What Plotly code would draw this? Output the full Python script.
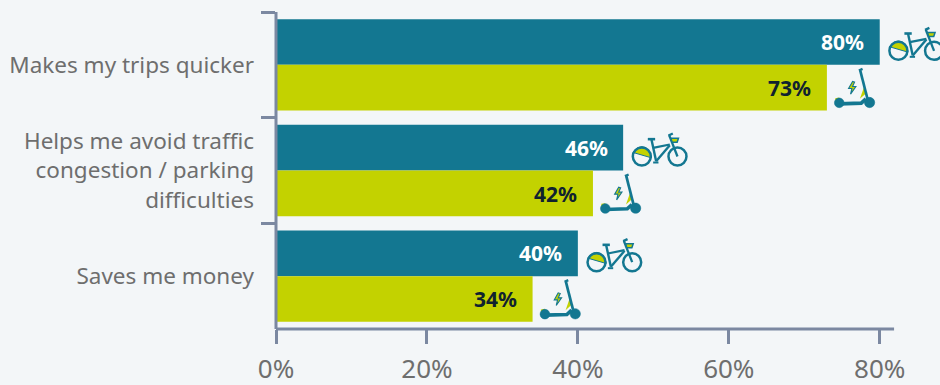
import plotly.graph_objects as go

categories = ["Makes my trips quicker",
              "Helps me avoid traffic<br>congestion / parking<br>difficulties",
              "Saves me money"]
bike_values = [80, 46, 40]
scooter_values = [73, 42, 34]
x_ticks = [0, 20, 40, 60, 80]
x_tick_labels = ["0%", "20%", "40%", "60%", "80%"]

TEAL = "#137791"
LIME = "#c3d200"
AXIS = "#7b88a1"
BG = "#f3f6f8"
GREY = "#6e6e6e"
DARK = "#10222f"
FONT = "Noto Sans"
BAR_OFFSET = 23  # px between category centre and bar centre


def z(pt, ox, oy):
    return (pt[0] - ox) / 3, (pt[1] - oy) / 3


def poly(pts, ox, oy, close=False):
    out = []
    for i, p in enumerate(pts):
        x, y = z(p, ox, oy)
        out.append(f"{'M' if i == 0 else 'L'} {x:.2f} {y:.2f}")
    return " ".join(out) + (" Z" if close else "")


def circle(c, r, ox, oy):
    x, y = z(c, ox, oy)
    r = r / 3
    k = r * 0.5523
    return (f"M {x-r:.2f} {y:.2f} C {x-r:.2f} {y-k:.2f} {x-k:.2f} {y-r:.2f} {x:.2f} {y-r:.2f} "
            f"C {x+k:.2f} {y-r:.2f} {x+r:.2f} {y-k:.2f} {x+r:.2f} {y:.2f} "
            f"C {x+r:.2f} {y+k:.2f} {x+k:.2f} {y+r:.2f} {x:.2f} {y+r:.2f} "
            f"C {x-k:.2f} {y+r:.2f} {x-r:.2f} {y+k:.2f} {x-r:.2f} {y:.2f} Z")


def place(path, dy):
    toks = path.split()
    out, is_y = [], False
    for t in toks:
        if t.isalpha():
            out.append(t)
            is_y = False
        else:
            out.append(f"{-(float(t) + dy):.2f}" if is_y else t)
            is_y = not is_y
    return " ".join(out)


BOX = (144, 69)   # origin in 3x crop units: bar end, bar centre
SC = (9, 207)

bike_parts = [
    # lime half of the rear wheel
    ("M 174 84 C 190 58 222 60 229 100 Z", LIME, TEAL, 1.0, True),
    (circle((200, 96), 27, *BOX), None, TEAL, 2.5, False),
    (circle((307, 96), 27, *BOX), None, TEAL, 2.5, False),
    (poly([(218, 44), (240, 44)], *BOX), None, TEAL, 2.6, False),
    (poly([(229, 45), (243, 110)], *BOX), None, TEAL, 2.4, False),
    (poly([(234, 70), (284, 60)], *BOX), None, TEAL, 2.2, False),
    (poly([(284, 62), (243, 110)], *BOX), None, TEAL, 2.4, False),
    (poly([(282, 32), (307, 96)], *BOX), None, TEAL, 2.3, False),
    (poly([(280, 33), (293, 27)], *BOX), None, TEAL, 2.4, False),
    (poly([(287, 41), (310, 41), (306, 53), (291, 53)], *BOX, close=True), LIME, TEAL, 1.5, False),
    (poly([(234, 114), (250, 114)], *BOX), None, TEAL, 2.0, False),
]
scooter_parts = [
    (poly([(108, 240), (121, 203), (126, 224)], *SC, close=True), LIME, None, 0, False),
    (poly([(34, 238), (46, 236), (46, 246), (34, 248)], *SC, close=True), LIME, None, 0, False),
    (circle((46, 252), 14.5, *SC), TEAL, TEAL, 0.5, False),
    (circle((137, 251), 15.5, *SC), TEAL, TEAL, 0.5, False),
    (poly([(46, 255), (112, 253), (126, 240)], *SC), None, TEAL, 3.6, False),
    (poly([(109, 155), (132, 245)], *SC), None, TEAL, 2.7, False),
    (poly([(105, 155), (116, 150)], *SC), None, TEAL, 2.4, False),
    (poly([(86, 188), (74, 209), (84, 209), (80, 226), (96, 203), (86, 203), (92, 190)], *SC, close=True),
     LIME, TEAL, 1.1, False),
]


def translate_raw(path, ox, oy):
    toks = path.split()
    out, is_y = [], False
    for t in toks:
        if t.isalpha():
            out.append(t)
            is_y = False
        else:
            v = (float(t) - (oy if is_y else ox)) / 3
            out.append(f"{v:.2f}")
            is_y = not is_y
    return " ".join(out)


def icon_shapes(parts, value, row, dy, origin):
    shapes = []
    for path, fill, line, width, raw in parts:
        p = translate_raw(path, *origin) if raw else path
        shapes.append(dict(
            type="path", xref="x", yref="y",
            xsizemode="pixel", ysizemode="pixel",
            xanchor=value, yanchor=row,
            path=place(p, dy),
            fillcolor=fill if fill else "rgba(0,0,0,0)",
            line=dict(color=line if line else "rgba(0,0,0,0)", width=width),
            layer="above",
        ))
    return shapes


fig = go.Figure()
fig.add_bar(y=categories, x=bike_values, orientation="h", marker=dict(color=TEAL, line_width=0),
            hoverinfo="skip", showlegend=False)
fig.add_bar(y=categories, x=scooter_values, orientation="h", marker=dict(color=LIME, line_width=0),
            hoverinfo="skip", showlegend=False)

shapes = [
    dict(type="line", xref="x", yref="paper", x0=0, x1=81.9, y0=0, y1=0,
         line=dict(color=AXIS, width=3), layer="above"),
    dict(type="line", xref="paper", yref="paper", x0=0, x1=0, y0=0, y1=1,
         line=dict(color=AXIS, width=3), layer="above"),
]
annotations = []
for i, cat in enumerate(categories):
    shapes += icon_shapes(bike_parts, bike_values[i], i, -BAR_OFFSET, BOX)
    shapes += icon_shapes(scooter_parts, scooter_values[i], i, BAR_OFFSET, SC)
    annotations.append(dict(x=bike_values[i], y=cat, xref="x", yref="y", text=f"{bike_values[i]}%",
                            showarrow=False, xanchor="right", xshift=-13.5, yshift=BAR_OFFSET,
                            font=dict(family=FONT, size=21, color="white", weight="bold")))
    annotations.append(dict(x=scooter_values[i], y=cat, xref="x", yref="y", text=f"{scooter_values[i]}%",
                            showarrow=False, xanchor="right", xshift=-13.5, yshift=-BAR_OFFSET,
                            font=dict(family=FONT, size=21, color=DARK, weight="bold")))

fig.update_layout(
    width=940, height=385,
    margin=dict(l=275.7, r=0, t=12, b=56, pad=0),
    paper_bgcolor=BG, plot_bgcolor=BG,
    barmode="group", bargap=0.135, bargroupgap=0,
    shapes=shapes, annotations=annotations,
    font=dict(family=FONT, color=GREY),
    xaxis=dict(range=[0, 664.3 / 7.55], tickmode="array", tickvals=x_ticks, ticktext=x_tick_labels,
               showgrid=False, zeroline=False, showline=False,
               ticks="outside", ticklen=14, tickwidth=3, tickcolor=AXIS,
               ticklabelstandoff=3,
               tickfont=dict(family=FONT, size=26, color=GREY)),
    yaxis=dict(categoryorder="array", categoryarray=categories, autorange="reversed",
               tickson="boundaries", showgrid=False, zeroline=False, showline=False,
               ticks="outside", ticklen=14, tickwidth=3, tickcolor=AXIS,
               ticklabelstandoff=21,
               tickfont=dict(family=FONT, size=22.5, color=GREY)),
)

fig.write_html("out.html", config=dict(displayModeBar=False),
               post_script="document.body.style.margin='0';document.body.style.overflow='hidden';")
